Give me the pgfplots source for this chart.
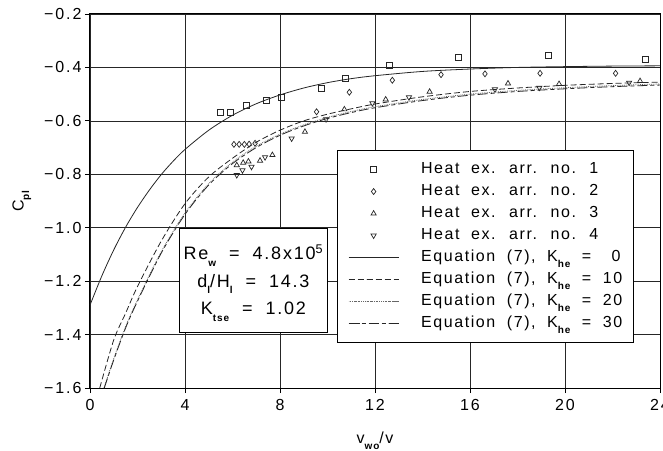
\documentclass[border=0pt]{standalone}
\usepackage{fontspec}
\setmainfont{Liberation Sans}[LetterSpace=10, WordSpace=1.9]
\newfontfamily\tickfont{Liberation Sans}[LetterSpace=12]
\usepackage{pgfplots}
\pgfplotsset{compat=1.18}
\newcommand{\sub}[1]{\raisebox{-0.65ex}[0pt][0pt]{\fontsize{10}{10}\selectfont\bfseries #1}}
\begin{document}
\begin{tikzpicture}
\begin{axis}[
  scale only axis,
  width=570pt, height=374pt,
  xmin=0, xmax=24, ymin=-1.6, ymax=-0.2,
  xtick={0,4,...,24},
  ytick={-1.6,-1.4,-1.2,-1.0,-0.8,-0.6,-0.4,-0.2},
  yticklabels={−1.6,−1.4,−1.2,−1.0,−0.8,−0.6,−0.4,−0.2},
  /pgf/number format/assume math mode=true,
  tick label style={font=\tickfont\fontsize{16}{17}\selectfont},
  xticklabel style={yshift=-3pt},
  grid=major,
  major grid style={black!85, line width=0.7pt},
  axis line style={black, line width=1pt},
  tick style={black, line width=0.8pt},
  tick align=outside,
  major tick length=5pt,
  xtick pos=bottom, ytick pos=left,
  xlabel={v\sub{wo}/v},
  ylabel={C\sub{pl}},
  every axis x label/.style={at={(axis description cs:0.5,0)}, yshift=-50pt, anchor=center, font=\fontsize{16}{17}\selectfont},
  every axis y label/.style={at={(axis description cs:0,0.5)}, xshift=-72pt, rotate=90, anchor=center, font=\fontsize{16}{17}\selectfont},
  legend style={at={(0.433,0.636)}, anchor=north west, draw=black, line width=0.8pt, fill=white,
    font=\fontsize{16}{17}\selectfont, row sep=6pt, inner xsep=11pt, inner ysep=11pt,
    nodes={inner sep=0pt, text height=12pt, text depth=4pt},
    /tikz/every odd column/.style={column sep=22pt}},
  legend cell align=left,
  legend image code/.code={\draw[mark repeat=2,mark phase=2,#1] plot coordinates {(0pt,0pt)(25pt,0pt)(50pt,0pt)};},
]
\addplot[only marks, mark=square, mark size=3pt, black!85, mark options={line width=0.7pt}] coordinates {
(5.47,-0.568)(5.9,-0.567)(6.57,-0.541)(7.44,-0.522)(8.07,-0.512)(9.75,-0.478)(10.74,-0.441)(12.59,-0.394)(15.5,-0.362)(19.3,-0.356)(23.37,-0.369)};
\addlegendentry{Heat ex. arr. no. 1}
\addplot[only marks, mark=diamond, mark size=3pt, black!85, mark options={line width=0.7pt}] coordinates {
(6.06,-0.688)(6.28,-0.688)(6.5,-0.688)(6.7,-0.687)(6.95,-0.684)(9.54,-0.566)(10.92,-0.493)(12.73,-0.448)(14.78,-0.427)(16.63,-0.424)(18.95,-0.422)(22.13,-0.422)};
\addlegendentry{Heat ex. arr. no. 2}
\addplot[only marks, mark=triangle, mark size=3pt, black!85, mark options={line width=0.7pt}] coordinates {
(6.18,-0.766)(6.45,-0.757)(6.67,-0.752)(7.16,-0.749)(7.68,-0.728)(9.05,-0.641)(10.71,-0.557)(12.45,-0.52)(14.3,-0.491)(17.6,-0.46)(19.75,-0.462)(23.16,-0.451)};
\addlegendentry{Heat ex. arr. no. 3}
\addplot[only marks, mark=triangle, mark size=3pt, black!85, mark options={line width=0.7pt, rotate=180}] coordinates {
(6.18,-0.803)(6.42,-0.785)(6.8,-0.772)(7.37,-0.736)(8.49,-0.666)(9.94,-0.594)(11.89,-0.534)(13.43,-0.512)(17.05,-0.482)(18.92,-0.476)(22.7,-0.457)};
\addlegendentry{Heat ex. arr. no. 4}
\addplot[black!85, line width=0.8pt, smooth] coordinates {
(0,-1.290)(0.5,-1.180)(1,-1.083)(1.5,-0.998)(2,-0.924)(2.5,-0.859)(3,-0.801)(3.5,-0.751)(4,-0.707)(5,-0.635)(6,-0.579)(7,-0.536)(8,-0.503)(9,-0.477)(10,-0.457)(11,-0.442)(12,-0.431)(14,-0.415)(16,-0.406)(18,-0.400)(20,-0.397)(22,-0.395)(24,-0.394)};
\addlegendentry{Equation (7), K\sub{he} = \phantom{1}0}
\addplot[black!85, line width=0.8pt, smooth, dash pattern=on 6pt off 3pt] coordinates {
(0.41,-1.6)(1,-1.42)(1.5,-1.32)(2,-1.22)(3,-1.05)(4,-0.91)(5,-0.81)(6,-0.74)(7,-0.68)(8,-0.635)(9,-0.60)(10,-0.575)(11,-0.555)(12,-0.537)(14,-0.51)(16,-0.49)(18,-0.477)(20,-0.467)(22,-0.46)(24,-0.455)};
\addlegendentry{Equation (7), K\sub{he} = 10}
\addplot[black!60, line width=0.8pt, smooth, densely dotted] coordinates {
(0.59,-1.6)(1,-1.49)(1.5,-1.37)(2,-1.27)(3,-1.09)(4,-0.945)(5,-0.835)(6,-0.755)(7,-0.695)(8,-0.65)(9,-0.615)(10,-0.587)(11,-0.565)(12,-0.547)(14,-0.52)(16,-0.50)(18,-0.486)(20,-0.476)(22,-0.468)(24,-0.462)};
\addlegendentry{Equation (7), K\sub{he} = 20}
\addplot[black!85, line width=0.8pt, smooth, dash pattern=on 10pt off 3pt on 4pt off 3pt] coordinates {
(0.6,-1.6)(1,-1.495)(1.5,-1.375)(2,-1.275)(3,-1.095)(4,-0.95)(5,-0.84)(6,-0.76)(7,-0.70)(8,-0.654)(9,-0.619)(10,-0.591)(11,-0.569)(12,-0.551)(14,-0.524)(16,-0.504)(18,-0.49)(20,-0.48)(22,-0.472)(24,-0.466)};
\addlegendentry{Equation (7), K\sub{he} = 30}
\node[draw=black, line width=0.8pt, fill=white, align=center, font=\fontsize{18}{27.5}\selectfont,
  minimum width=147pt, minimum height=104pt, inner sep=4pt] at (axis cs:6.88,-1.196)
  {Re\sub{w} = 4.8x10\textsuperscript{5}\\ d\sub{l}/H\sub{l} = 14.3\\ K\sub{tse} = 1.02};
\end{axis}
\pgfresetboundingbox
\path[use as bounding box] (-90pt,-62pt) rectangle (573pt,388pt);
\end{tikzpicture}
\end{document}
